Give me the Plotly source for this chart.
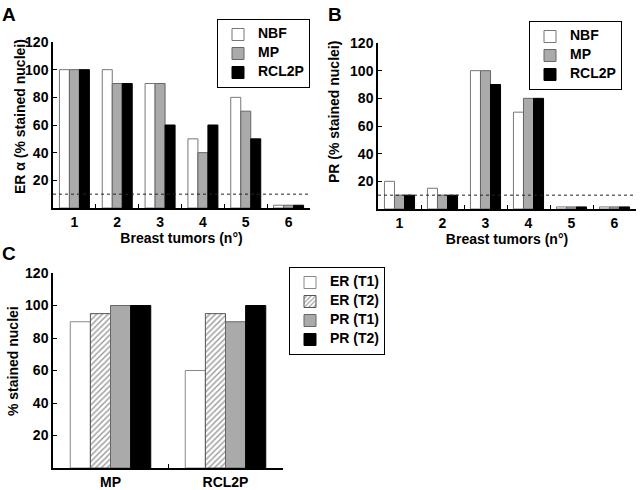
import plotly.graph_objects as go

tumors = ["1", "2", "3", "4", "5", "6"]
er_nbf = [100, 100, 90, 50, 80, 2]
er_mp = [100, 90, 90, 40, 70, 2]
er_rcl2p = [100, 90, 60, 60, 50, 2]

pr_nbf = [20, 15, 100, 70, 1.5, 1.5]
pr_mp = [10, 10, 100, 80, 1.5, 1.5]
pr_rcl2p = [10, 10, 90, 80, 1.5, 1.5]

fixatives = ["MP", "RCL2P"]
er_t1 = [90, 60]
er_t2 = [95, 95]
pr_t1 = [100, 90]
pr_t2 = [100, 100]

threshold = 10
yticks = [20, 40, 60, 80, 100, 120]

FONT = "Liberation Sans, Arial, Helvetica, sans-serif"
W, H = 640, 490

fig = go.Figure()

def lname(s):
    return "<span style='font-size:14px'>" + s + "</span>"

def bar(x, y, name, fill, line, xa, ya, leg, pattern=None):
    m = dict(color=fill, line=dict(color=line, width=1))
    if pattern:
        m["pattern"] = pattern
    fig.add_trace(go.Bar(x=x, y=y, name=lname(name), marker=m, xaxis=xa, yaxis=ya,
                         legend=leg, showlegend=True, hoverinfo="skip"))

# Panel A
bar(tumors, er_nbf, "NBF", "white", "#777", "x", "y", "legend")
bar(tumors, er_mp, "MP", "#aaaaaa", "#666", "x", "y", "legend")
bar(tumors, er_rcl2p, "RCL2P", "black", "black", "x", "y", "legend")
# Panel B
bar(tumors, pr_nbf, "NBF", "white", "#777", "x2", "y2", "legend2")
bar(tumors, pr_mp, "MP", "#aaaaaa", "#666", "x2", "y2", "legend2")
bar(tumors, pr_rcl2p, "RCL2P", "black", "black", "x2", "y2", "legend2")
# Panel C
bar(fixatives, er_t1, "ER (T1)", "white", "#888", "x3", "y3", "legend3")
bar(fixatives, er_t2, "ER (T2)", "white", "#555", "x3", "y3", "legend3",
    pattern=dict(shape="/", fgcolor="#333", bgcolor="white", size=4, solidity=0.35))
bar(fixatives, pr_t1, "PR (T1)", "#aaaaaa", "#666", "x3", "y3", "legend3")
bar(fixatives, pr_t2, "PR (T2)", "black", "black", "x3", "y3", "legend3")

def px(v):
    return v / W

def py(v):
    return 1 - v / H

tickfont = dict(family=FONT, size=14, color="black", weight="bold")
titlefont = dict(family=FONT, size=14, color="black", weight="bold")

def xax(dom, anchor, title=None):
    d = dict(domain=dom, anchor=anchor, showline=True, linecolor="black", linewidth=1.5,
             ticks="inside", ticklen=4, tickcolor="black", tickson="boundaries",
             tickfont=tickfont, showgrid=False, zeroline=False, automargin=False)
    if title:
        d["title"] = dict(text=title, font=titlefont, standoff=2)
    return d

def yax(dom, anchor):
    return dict(domain=dom, anchor=anchor, range=[0, 120], tickvals=yticks,
                showline=True, linecolor="black", linewidth=1.5, ticks="inside",
                ticklen=4, tickcolor="black", tickfont=tickfont, showgrid=False,
                zeroline=False, automargin=False)

legfont = dict(family=FONT, size=10, color="black", weight="bold")

def leg(x, y):
    return dict(x=px(x), y=py(y), xanchor="right", yanchor="top", xref="paper", yref="paper",
                bgcolor="white", bordercolor="black", borderwidth=1, font=legfont,
                tracegroupgap=0, itemwidth=30)

fig.update_layout(
    width=W, height=H, margin=dict(l=0, r=0, t=0, b=0, autoexpand=False),
    paper_bgcolor="white", plot_bgcolor="white",
    barmode="group", bargap=0.3, bargroupgap=0,
    font=dict(family=FONT, color="black"),
    xaxis=xax([px(53), px(310)], "y", "Breast tumors (n°)"),
    yaxis=yax([py(208), py(42)], "x"),
    xaxis2=xax([px(378), px(636)], "y2", "Breast tumors (n°)"),
    yaxis2=yax([py(209), py(43)], "x2"),
    xaxis3=xax([px(53), px(283)], "y3"),
    yaxis3=yax([py(468), py(273)], "x3"),
    legend=leg(310, 19),
    legend2=leg(622, 21),
    legend3=leg(385, 267),
    showlegend=True,
)

# y-axis titles
for txt, x, y in (("ER α (% stained nuclei)", 20, 117),
                  ("PR (% stained nuclei)", 334, 112),
                  ("% stained nuclei", 13, 361)):
    fig.add_annotation(text=txt, x=px(x), y=py(y), xref="paper", yref="paper",
                       xanchor="center", yanchor="middle", textangle=-90, showarrow=False,
                       font=titlefont)

for xr, yr in (("x", "y"), ("x2", "y2")):
    fig.add_shape(type="line", xref=xr + " domain", yref=yr, x0=0, x1=1,
                  y0=threshold, y1=threshold, line=dict(color="#222", width=1, dash="dot"))

for txt, x, y in (("A", 0, 2), ("B", 326, 2), ("C", 0, 241)):
    fig.add_annotation(text=txt, x=px(x), y=py(y), xref="paper", yref="paper",
                       xanchor="left", yanchor="top", showarrow=False,
                       font=dict(family=FONT, size=19, color="black", weight="bold"))

fig.write_html("out.html", config={"displayModeBar": False},
               post_script="document.body.style.margin='0';document.body.style.overflow='hidden';")
